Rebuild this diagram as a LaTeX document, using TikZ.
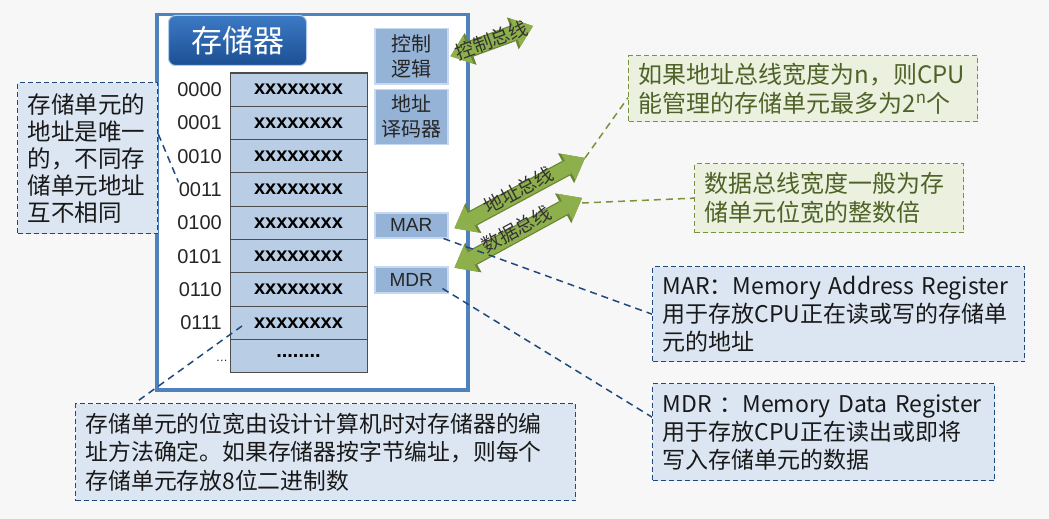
\documentclass[tikz,border=0pt]{standalone}
\usepackage{fontspec}
\setmainfont{Noto Sans CJK SC}
\newfontfamily\arialfont{Liberation Sans}
\usepackage{tikz}
\usetikzlibrary{positioning,calc,arrows.meta}

\definecolor{memblue}{HTML}{4F81BD}
\definecolor{cellblue}{HTML}{B9CDE5}
\definecolor{unitblue}{HTML}{95B3D7}
\definecolor{unitrim}{HTML}{C6D9F1}
\definecolor{titletop}{HTML}{3C7AC4}
\definecolor{titlebot}{HTML}{1B4F93}
\definecolor{notefill}{HTML}{DCE6F2}
\definecolor{noteline}{HTML}{1F497D}
\definecolor{greenfill}{HTML}{EBF1DE}
\definecolor{greenedge}{HTML}{77933C}
\definecolor{greentext}{HTML}{4F6228}
\definecolor{busfill}{HTML}{8EB04C}
\definecolor{busedge}{HTML}{6A8535}
\definecolor{bgcol}{HTML}{F7F7F7}

\begin{document}
\begin{tikzpicture}[x=1pt, y=-1pt,
  cell/.style={draw=black!70, fill=cellblue, line width=1pt, outer sep=0pt, minimum width=137pt, minimum height=33.33pt, inner sep=0pt, font=\arialfont\fontsize{20}{24}\selectfont\bfseries},
  addr/.style={inner sep=0pt, text=black!85, font=\arialfont\fontsize{20}{24}\selectfont},
  unit/.style={draw=unitrim, fill=unitblue, line width=1.5pt, minimum width=73pt, inner sep=0pt, align=center, text=black!85, font=\fontsize{20}{25}\selectfont},
  reg/.style={unit, font=\arialfont\fontsize{19}{22}\selectfont},
  titlebox/.style={draw=titletop!40, line width=1pt, rounded corners=7pt, top color=titletop, bottom color=titlebot, minimum width=138pt, minimum height=50pt, text=white, font=\fontsize{31}{34}\selectfont},
  note/.style={draw=noteline, fill=notefill, line width=1.3pt, dash pattern=on 5pt off 3pt, inner xsep=10pt, inner ysep=0pt, align=left, text=black!90, font=\fontsize{23}{28}\selectfont},
  gnote/.style={note, draw=greenedge, fill=greenfill, text=greentext, font=\fontsize{24}{29.5}\selectfont},
  bline/.style={draw=noteline, line width=1.5pt, dash pattern=on 7pt off 5pt},
  gline/.style={draw=greenedge, line width=1.5pt, dash pattern=on 7pt off 5pt},
  bus/.style={draw=busfill, line width=14pt, {Triangle[width=30pt,length=19pt,line width=0pt]}-{Triangle[width=30pt,length=19pt,line width=0pt]},
    preaction={draw=busedge, line width=16.5pt, {Triangle[width=34pt,length=21.5pt,line width=0pt]}-{Triangle[width=34pt,length=21.5pt,line width=0pt]}}},
  buslabel/.style={inner sep=0pt, text=black!80, font=\fontsize{19}{21}\selectfont}
]
  \fill[bgcol] (0,0) rectangle (1049,519);
  \useasboundingbox (0,0) rectangle (1049,519);

  % memory
  \node[draw=memblue, line width=3.5pt, fill=white, minimum width=311pt, minimum height=375pt, inner sep=0pt, anchor=north west] (mem) at (155,13) {};
  \node[titlebox, anchor=north west] (title) at (168,15) {存储器};

  \node[cell, anchor=north west] (c0) at (230,73) {xxxxxxxx};
  \node[addr, left=8pt of c0] (a0) {0000};
  \foreach \a [count=\i] in {0001,0010,0011,0100,0101,0110,0111}{
    \pgfmathtruncatemacro{\j}{\i-1}
    \node[cell, below=0pt of c\j] (c\i) {xxxxxxxx};
    \node[addr, left=8pt of c\i] (a\i) {\a};
  }
  \node[cell, below=0pt of c7] (c8) {........};
  \node[addr, font=\arialfont\fontsize{12}{14}\selectfont, left=2pt of c8, yshift=-5pt] (a8) {…};

  \node[unit, minimum height=55pt, anchor=north west] (ctrl) at (374,28) {控制\\逻辑};
  \node[unit, minimum height=55pt, below=4pt of ctrl] (dec) {地址\\译码器};
  \node[reg, minimum height=25pt, anchor=north west] (mar) at (374,212) {MAR};
  \node[reg, minimum height=26pt, anchor=north west] (mdr) at (374,266) {MDR};

  % notes
  \node[note, font=\fontsize{23.5}{27}\selectfont, text width=120pt, minimum height=151pt, anchor=north west] (leftnote) at (17,82) {存储单元的\\地址是唯一\\的，不同存\\储单元地址\\互不相同};
  \node[note, font=\fontsize{22.8}{28.5}\selectfont, text width=480pt, minimum height=97pt, anchor=north west] (bitnote) at (75,403) {存储单元的位宽由设计计算机时对存储器的编\\址方法确定。如果存储器按字节编址，则每个\\存储单元存放8位二进制数};
  \node[note, text width=352pt, minimum height=95pt, anchor=north west] (marnote) at (652,266) {\mbox{MAR：Memory Address Register}\\用于存放CPU正在读或写的存储单\\元的地址};
  \node[note, text width=322pt, minimum height=97pt, anchor=north west] (mdrnote) at (652,383) {\mbox{MDR ：Memory Data Register}\\用于存放CPU正在读出或即将\\写入存储单元的数据};
  \node[gnote, text width=329pt, minimum height=66pt, anchor=north west] (busnote) at (628,55) {如果地址总线宽度为n，则CPU\\能管理的存储单元最多为2\textsuperscript{n}个};
  \node[gnote, text width=249pt, minimum height=69pt, anchor=north west] (datanote) at (694,163) {数据总线宽度一般为存\\储单元位宽的整数倍};

  % buses
  \coordinate (cbus) at (533,26);
  \coordinate (abus) at (585,158);
  \coordinate (dbus) at (582,198);
  \draw[gline] (abus) -- ([yshift=-9pt]busnote.west);
  \draw[gline] ([yshift=-5pt]dbus) -- (datanote.west);
  \draw[bus] ([xshift=2pt]ctrl.east) -- (cbus) node[buslabel, midway, sloped, yshift=1pt] (cbuslbl) {控制总线};
  \draw[bus] ([xshift=6pt,yshift=-3pt]mar.east) -- (abus) node[buslabel, midway, sloped, yshift=3pt] (abuslbl) {地址总线};
  \draw[bus] ([xshift=6pt,yshift=12pt]mdr.east) -- (dbus) node[buslabel, midway, sloped, yshift=4pt] (dbuslbl) {数据总线};

  % callout lines
  \draw[bline] ([yshift=24pt]leftnote.east) -- (a3.north west);
  \draw[bline] ([xshift=-5pt]mar.south east) -- (marnote.west);
  \draw[bline] ([xshift=-6pt,yshift=5pt]mdr.south east) -- ([yshift=15pt]mdrnote.west);
  \draw[bline] ([xshift=12pt,yshift=-3pt]c7.west) -- ([xshift=60pt]bitnote.north west);
\end{tikzpicture}
\end{document}
